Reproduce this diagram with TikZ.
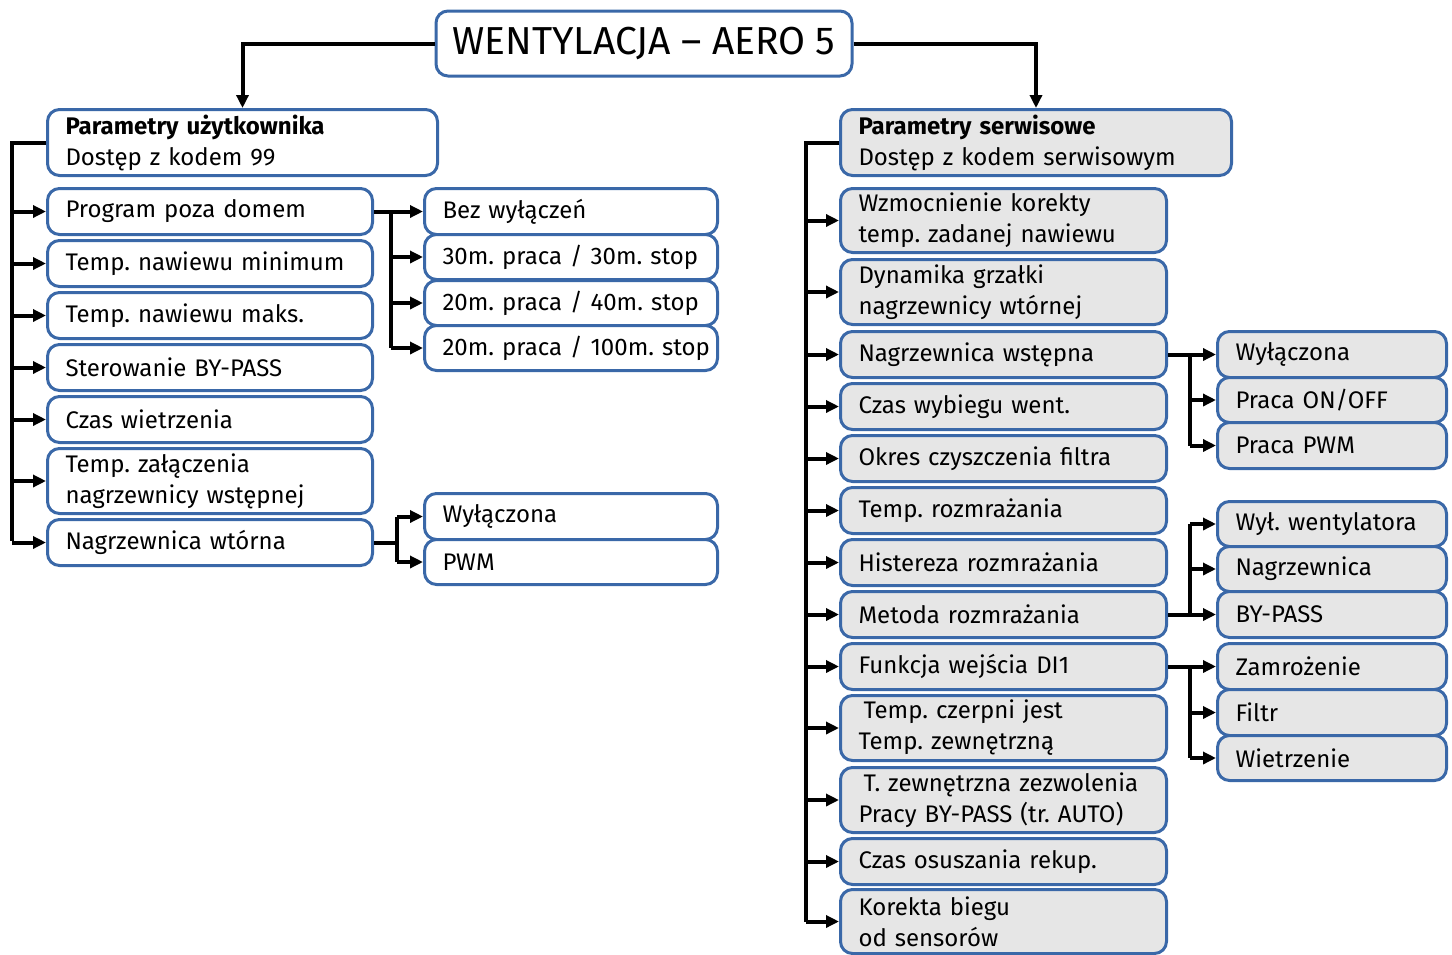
\documentclass[tikz,border=0pt]{standalone}
\usepackage{fontspec}
\setmainfont{Fira Sans}
\usetikzlibrary{arrows.meta}
\definecolor{bblue}{RGB}{58,104,168}
\definecolor{boxgray}{RGB}{230,230,230}
\newcommand{\bodyf}{\fontsize{24}{31}\selectfont\frenchspacing}
\newcommand{\titlef}{\fontsize{39}{44}\selectfont\frenchspacing}
\tikzset{
  box/.style={draw=bblue, line width=3pt, rounded corners=12pt, anchor=north west,
    inner xsep=18pt, inner ysep=0pt, align=left, font=\bodyf},
  wbox/.style={box, fill=white},
  gbox/.style={box, fill=boxgray},
  conn/.style={line width=4pt, draw=black},
  arr/.style={conn, -{Triangle[length=13pt,width=12pt]}}
}
\newcommand{\bx}[7]{%
  \pgfmathsetmacro{\tw}{#4-36}%
  \node[#6, minimum width=#4pt, minimum height=#5pt, text width=\tw pt] (#1) at (#2,#3) {#7};}
\begin{document}
\begin{tikzpicture}[x=1pt,y=-1pt]
\useasboundingbox (0,0) rectangle (1452,954);
% title
\node[draw=bblue, line width=3pt, rounded corners=12pt, fill=white, minimum width=416pt,
  minimum height=65pt, font=\titlef, inner sep=0pt] (title) at (644,43.5) {WENTYLACJA -- AERO 5};
% left
\bx{lhdr}{46}{108}{390}{66}{wbox}{\textbf{Parametry użytkownika}\\Dostęp z kodem 99}
\bx{prog}{46}{187}{325}{46}{wbox}{Program poza domem}
\bx{tmin}{46}{239}{325}{46}{wbox}{\mbox{Temp. nawiewu minimum}}
\bx{tmax}{46}{291}{325}{46}{wbox}{Temp. nawiewu maks.}
\bx{byp}{46}{343}{325}{46}{wbox}{Sterowanie BY-PASS}
\bx{czas}{46}{395}{325}{46}{wbox}{Czas wietrzenia}
\bx{tzal}{46}{447}{325}{65}{wbox}{Temp. załączenia\\\mbox{nagrzewnicy wstępnej}}
\bx{nwt}{46}{518}{325}{46}{wbox}{Nagrzewnica wtórna}
\bx{s1}{423}{187}{293}{46}{wbox}{Bez wyłączeń}
\bx{s2}{423}{233}{293}{45}{wbox}{\mbox{30m. praca / 30m. stop}}
\bx{s3}{423}{279}{293}{45}{wbox}{\mbox{20m. praca / 40m. stop}}
\bx{s4}{423}{324}{293}{45}{wbox}{\mbox{20m. praca / 100m. stop}}
\bx{w1}{423}{492}{293}{46}{wbox}{Wyłączona}
\bx{w2}{423}{538}{293}{45}{wbox}{PWM}
% right
\bx{rhdr}{839}{108}{391}{66}{gbox}{\textbf{Parametry serwisowe}\\\mbox{Dostęp z kodem serwisowym}}
\bx{r1}{839}{187}{326}{64}{gbox}{Wzmocnienie korekty\\\mbox{temp. zadanej nawiewu}}
\bx{r2}{839}{258}{326}{65}{gbox}{Dynamika grzałki\\\mbox{nagrzewnicy wtórnej}}
\bx{r3}{839}{330}{326}{46}{gbox}{Nagrzewnica wstępna}
\bx{r4}{839}{382}{326}{46}{gbox}{Czas wybiegu went.}
\bx{r5}{839}{434}{326}{46}{gbox}{\mbox{Okres czyszczenia filtra}}
\bx{r6}{839}{486}{326}{46}{gbox}{Temp. rozmrażania}
\bx{r7}{839}{538}{326}{46}{gbox}{Histereza rozmrażania}
\bx{r8}{839}{590}{326}{46}{gbox}{Metoda rozmrażania}
\bx{r9}{839}{642}{326}{46}{gbox}{Funkcja wejścia DI1}
\bx{r10}{839}{694}{326}{65}{gbox}{\hspace{5pt}Temp. czerpni jest\\Temp. zewnętrzną}
\bx{r11}{839}{766}{326}{65}{gbox}{\mbox{\hspace{5pt}T. zewnętrzna zezwolenia}\\\mbox{Pracy BY-PASS (tr. AUTO)}}
\bx{r12}{839}{837}{326}{46}{gbox}{Czas osuszania rekup.}
\bx{r13}{839}{888}{326}{64}{gbox}{Korekta biegu\\od sensorów}
\bx{q1}{1216}{330}{229}{46}{gbox}{Wyłączona}
\bx{q2}{1216}{376}{229}{45}{gbox}{Praca ON/OFF}
\bx{q3}{1216}{421}{229}{46}{gbox}{Praca PWM}
\bx{q4}{1216}{500}{229}{45}{gbox}{\mbox{Wył. wentylatora}}
\bx{q5}{1216}{545}{229}{45}{gbox}{Nagrzewnica}
\bx{q6}{1216}{590}{229}{46}{gbox}{BY-PASS}
\bx{q7}{1216}{642}{229}{46}{gbox}{Zamrożenie}
\bx{q8}{1216}{688}{229}{46}{gbox}{Filtr}
\bx{q9}{1216}{734}{229}{45}{gbox}{Wietrzenie}
% connectors from title
\draw[arr] (title.west) -| (lhdr.north);
\draw[arr] (title.east) -| (rhdr.north);
% left trunk
\coordinate (lt) at (12,541);
\draw[conn] (lhdr.west) -| (lt);
\foreach \n in {prog,tmin,tmax,byp,czas,tzal,nwt}
  \draw[arr] (lt |- \n.west) -- (\n.west);
% left branch 1
\coordinate (b1) at (391,346);
\draw[arr] (prog.east) -- (s1.west);
\draw[conn] (b1 |- prog.east) -- (b1 |- s4.west);
\foreach \n in {s2,s3,s4}
  \draw[arr] (b1 |- \n.west) -- (\n.west);
% left branch 2
\coordinate (b2) at (397,541);
\draw[conn] (nwt.east) -- (nwt.east -| b2);
\draw[conn] (b2 |- w1.west) -- (b2 |- w2.west);
\foreach \n in {w1,w2}
  \draw[arr] (b2 |- \n.west) -- (\n.west);
% right trunk
\coordinate (rt) at (806,922);
\draw[conn] (rhdr.west) -| (rt |- r13.west);
\foreach \n in {r1,r2,r3,r4,r5,r6,r7,r8,r9,r10,r11,r12,r13}
  \draw[arr] (rt |- \n.west) -- (\n.west);
% right branches
\coordinate (c1) at (1190,444);
\draw[arr] (r3.east) -- (q1.west);
\draw[conn] (c1 |- r3.east) -- (c1 |- q3.west);
\foreach \n in {q2,q3}
  \draw[arr] (c1 |- \n.west) -- (\n.west);
\coordinate (c2) at (1190,522);
\draw[arr] (r8.east) -- (q6.west);
\draw[conn] (c2 |- r8.east) -- (c2 |- q4.west);
\foreach \n in {q4,q5}
  \draw[arr] (c2 |- \n.west) -- (\n.west);
\coordinate (c3) at (1190,756);
\draw[arr] (r9.east) -- (q7.west);
\draw[conn] (c3 |- r9.east) -- (c3 |- q9.west);
\foreach \n in {q8,q9}
  \draw[arr] (c3 |- \n.west) -- (\n.west);
\end{tikzpicture}
\end{document}
